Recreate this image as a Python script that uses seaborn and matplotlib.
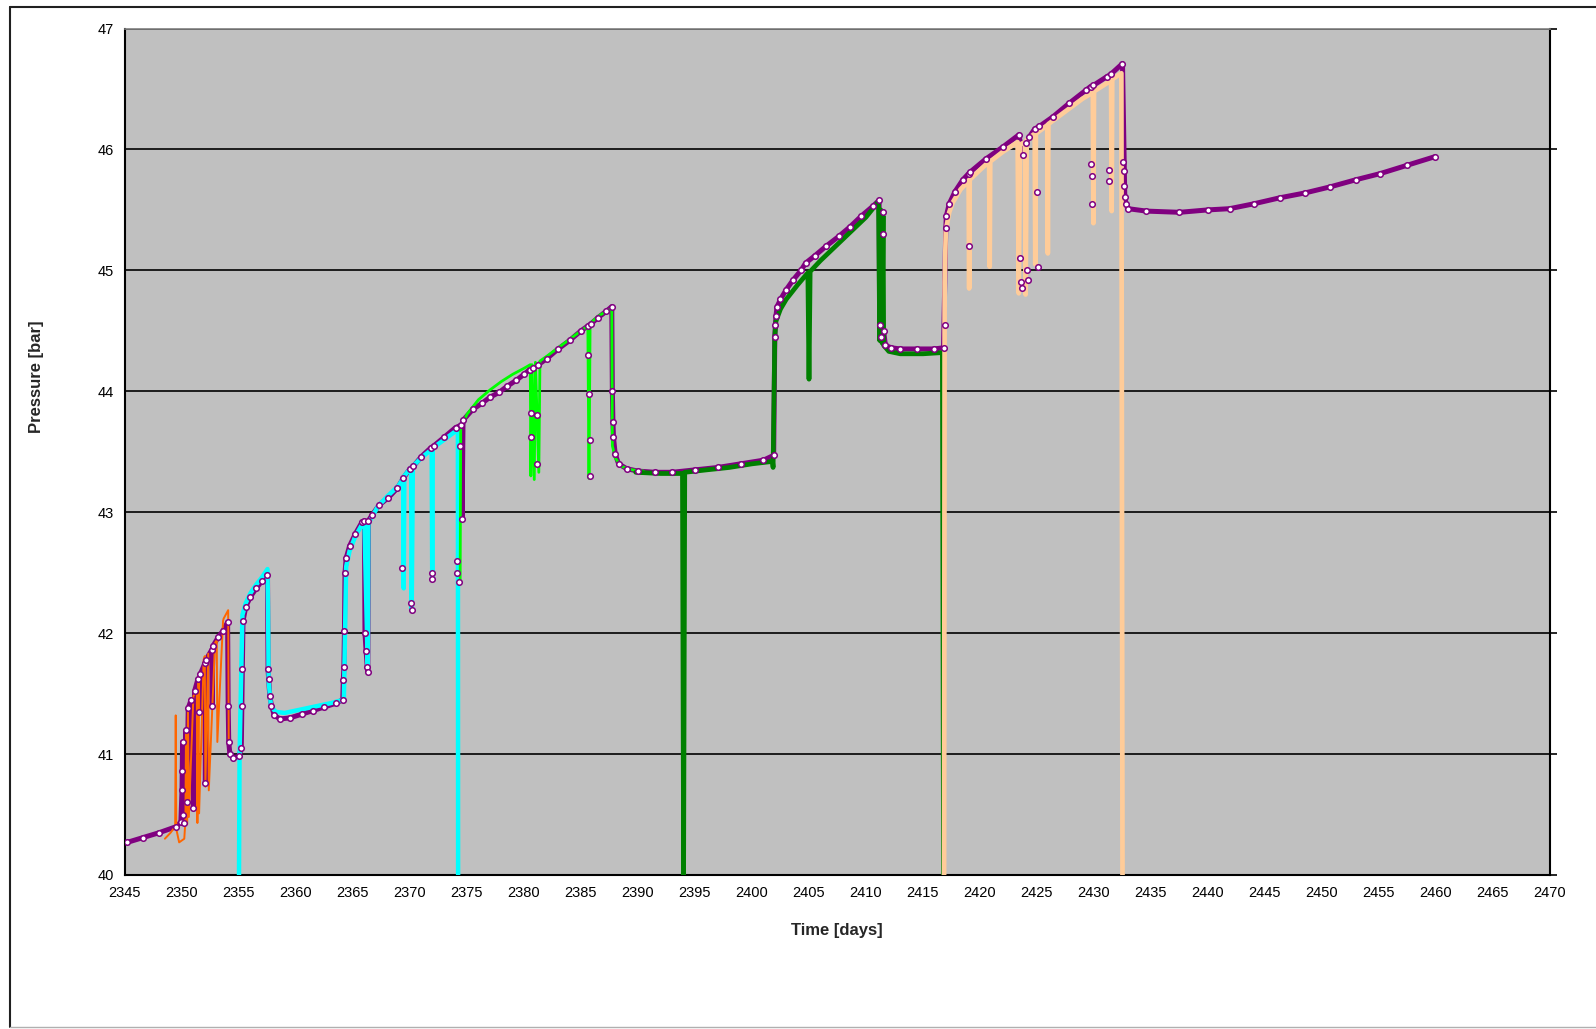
import matplotlib
matplotlib.use("Agg")
import matplotlib.pyplot as plt
from matplotlib.lines import Line2D
import seaborn as sns

# ---- measured bottom-hole pressure (time [days], pressure [bar]) ----
measured = [
    (2345.2, 40.27), (2346.6, 40.31), (2348.0, 40.35), (2349.5, 40.40),
    (2349.9, 40.44), (2350.0, 40.70), (2350.02, 40.86), (2350.05, 41.10), (2350.1, 40.50),
    (2350.15, 40.43), (2350.35, 41.20), (2350.4, 40.60), (2350.55, 41.38), (2350.8, 41.45),
    (2351.0, 40.55), (2351.1, 41.52), (2351.4, 41.62), (2351.5, 41.35), (2351.6, 41.66),
    (2352.0, 41.75), (2352.05, 40.76), (2352.1, 41.78), (2352.6, 41.86), (2352.65, 41.40),
    (2352.7, 41.89), (2353.2, 41.97), (2353.6, 42.02), (2354.0, 42.09), (2354.05, 41.40),
    (2354.1, 41.10), (2354.2, 41.00), (2354.5, 40.97), (2355.0, 40.98), (2355.2, 41.05),
    (2355.25, 41.40), (2355.3, 41.70), (2355.35, 42.10), (2355.6, 42.22), (2356.0, 42.30),
    (2356.5, 42.37), (2357.0, 42.43), (2357.5, 42.48), (2357.55, 41.70), (2357.6, 41.62),
    (2357.7, 41.48), (2357.85, 41.40), (2358.1, 41.32), (2358.6, 41.29), (2359.5, 41.30),
    (2360.5, 41.33), (2361.5, 41.36), (2362.5, 41.39), (2363.5, 41.42), (2364.1, 41.45),
    (2364.15, 41.61), (2364.2, 41.72), (2364.25, 42.02), (2364.3, 42.50), (2364.4, 42.62),
    (2364.7, 42.72), (2365.2, 42.82), (2365.8, 42.92), (2366.0, 42.93), (2366.05, 42.00),
    (2366.15, 41.85), (2366.25, 41.72), (2366.3, 41.68), (2366.35, 42.93), (2366.7, 42.98),
    (2367.3, 43.06), (2368.1, 43.12), (2368.9, 43.20), (2369.4, 43.28), (2370.0, 43.36),
    (2370.3, 43.38), (2371.0, 43.46), (2371.8, 43.53), (2372.1, 43.55), (2373.0, 43.62),
    (2374.0, 43.70), (2374.5, 43.72), (2374.57, 42.94), (2374.65, 43.76), (2375.5, 43.85),
    (2376.3, 43.90), (2377.0, 43.95), (2377.8, 43.99), (2378.5, 44.04), (2379.3, 44.09),
    (2380.0, 44.14), (2380.5, 44.18), (2380.75, 44.19), (2381.25, 44.22), (2382.0, 44.27),
    (2383.0, 44.35), (2384.0, 44.42), (2385.0, 44.50), (2385.6, 44.54), (2385.9, 44.56),
    (2386.5, 44.61), (2387.2, 44.66), (2387.7, 44.70), (2387.75, 44.00), (2387.8, 43.75),
    (2387.85, 43.62), (2388.0, 43.48), (2388.3, 43.40), (2389.0, 43.36), (2390.0, 43.34),
    (2391.5, 43.33), (2393.0, 43.33), (2395.0, 43.35), (2397.0, 43.37), (2399.0, 43.40),
    (2401.0, 43.43), (2401.9, 43.47), (2402.0, 44.45), (2402.05, 44.55), (2402.1, 44.62),
    (2402.2, 44.70), (2402.5, 44.76), (2403.0, 44.84), (2403.6, 44.92), (2404.3, 45.00),
    (2404.7, 45.06), (2405.5, 45.12), (2406.5, 45.20), (2407.6, 45.28), (2408.6, 45.36),
    (2409.6, 45.45), (2410.6, 45.53), (2411.15, 45.58), (2411.2, 44.55), (2411.3, 44.45),
    (2411.55, 44.50), (2411.7, 44.38), (2412.2, 44.36), (2413.0, 44.35), (2414.5, 44.35),
    (2416.0, 44.35), (2416.8, 44.36), (2417.0, 45.35), (2417.05, 45.45), (2417.3, 45.55),
    (2417.8, 45.65), (2418.5, 45.75), (2419.0, 45.80), (2419.1, 45.81), (2420.5, 45.92),
    (2422.0, 46.02), (2423.4, 46.12), (2423.8, 45.95), (2424.0, 46.05), (2424.3, 46.10),
    (2424.8, 46.17), (2425.2, 46.19), (2426.4, 46.27), (2427.8, 46.38), (2429.3, 46.49),
    (2429.7, 46.52), (2429.95, 46.53), (2431.1, 46.60), (2431.45, 46.62), (2432.5, 46.71),
    (2432.7, 45.61), (2432.8, 45.55), (2433.0, 45.51), (2434.6, 45.49), (2437.5, 45.48),
    (2440.0, 45.50), (2441.9, 45.51), (2444.0, 45.55), (2446.3, 45.60), (2448.5, 45.64),
    (2450.7, 45.69), (2453.0, 45.75), (2455.1, 45.80), (2457.5, 45.87), (2459.9, 45.94),
]

# isolated readings taken during short drawdowns
measured_spikes = [
    (2369.3, 42.54), (2370.1, 42.25), (2370.15, 42.19), (2371.9, 42.50), (2371.95, 42.45),
    (2374.1, 42.60), (2374.15, 42.50), (2374.3, 42.42), (2374.4, 43.55),
    (2380.6, 43.82), (2380.65, 43.62), (2381.1, 43.80), (2381.15, 43.40),
    (2385.65, 44.30), (2385.7, 43.98), (2385.75, 43.60), (2385.8, 43.30),
    (2411.45, 45.48), (2411.5, 45.30), (2416.9, 44.55), (2419.05, 45.20),
    (2423.5, 45.10), (2423.6, 44.90), (2423.7, 44.85), (2424.1, 45.00), (2424.2, 44.92),
    (2425.0, 45.65), (2425.05, 45.03), (2429.75, 45.88), (2429.8, 45.78), (2429.85, 45.55),
    (2431.3, 45.83), (2431.35, 45.74), (2432.55, 45.90), (2432.6, 45.82), (2432.65, 45.70),
]

# ---- simulated pressure, one run per history period ----
sim_orange = [
    (2348.5, 40.30), (2349.0, 40.35), (2349.4, 40.40), (2349.45, 41.32), (2349.5, 40.38),
    (2349.75, 40.27), (2350.2, 40.30), (2350.3, 40.45), (2350.35, 41.20), (2350.45, 40.42),
    (2350.52, 41.39), (2350.6, 40.48), (2351.0, 41.48), (2351.3, 41.52), (2351.35, 40.43),
    (2351.45, 41.59), (2351.5, 40.51), (2351.9, 41.78), (2352.0, 41.81), (2352.05, 40.73),
    (2352.3, 41.83), (2352.35, 40.70), (2352.9, 41.92), (2353.05, 41.94), (2353.1, 41.10),
    (2353.6, 42.10), (2353.65, 42.12), (2354.05, 42.19), (2354.1, 41.09),
]

sim_cyan = [
    (2355.0, 40.0), (2355.05, 41.0), (2355.3, 42.15), (2355.6, 42.25), (2356.0, 42.33),
    (2356.5, 42.40), (2357.0, 42.46), (2357.5, 42.53), (2357.55, 42.2), (2357.6, 41.6),
    (2357.8, 41.40), (2358.2, 41.35), (2359.0, 41.34), (2360.0, 41.36), (2361.0, 41.38),
    (2362.0, 41.40), (2363.0, 41.42), (2364.2, 41.45), (2364.4, 42.55), (2364.7, 42.68),
    (2365.2, 42.80), (2365.8, 42.90), (2366.0, 42.92), (2366.3, 41.70), (2366.35, 42.90),
    (2366.6, 42.95), (2367.2, 43.05), (2368.0, 43.13), (2369.0, 43.22), (2369.4, 43.28),
    (2369.45, 42.37), (2369.5, 43.30), (2370.1, 43.37), (2370.15, 42.19), (2370.25, 43.38),
    (2371.0, 43.45), (2371.9, 43.52), (2371.95, 42.45), (2372.0, 43.53), (2373.0, 43.60),
    (2374.0, 43.67), (2374.2, 43.68), (2374.22, 40.0),
]

sim_lime = [
    (2374.4, 42.44), (2374.45, 43.70), (2375.0, 43.81), (2376.0, 43.93), (2377.0, 44.01),
    (2378.0, 44.08), (2379.0, 44.14), (2380.0, 44.19), (2380.55, 44.22), (2380.6, 43.30),
    (2380.7, 44.22), (2380.9, 43.27), (2381.0, 44.24), (2381.3, 43.33), (2381.4, 44.25),
    (2382.0, 44.29), (2383.0, 44.36), (2384.0, 44.43), (2385.0, 44.50), (2385.6, 44.54),
    (2385.7, 43.28), (2385.8, 44.56), (2386.5, 44.62), (2387.7, 44.69), (2387.75, 43.55),
    (2388.0, 43.45), (2388.5, 43.38), (2389.5, 43.35), (2390.5, 43.34),
]

sim_green = [
    (2389.8, 43.33), (2392.0, 43.32), (2393.9, 43.32), (2394.0, 40.0), (2394.1, 43.33),
    (2396.0, 43.35), (2398.0, 43.37), (2400.0, 43.40), (2401.8, 43.42), (2401.85, 43.37),
    (2402.0, 44.45), (2402.1, 44.58), (2402.5, 44.68), (2403.0, 44.76), (2404.0, 44.88),
    (2404.9, 44.98), (2405.0, 44.10), (2405.1, 44.99), (2406.0, 45.08), (2407.0, 45.17),
    (2408.0, 45.26), (2409.0, 45.35), (2410.0, 45.44), (2411.1, 45.57), (2411.2, 44.42),
    (2411.3, 45.50), (2411.4, 44.40), (2411.5, 45.45), (2411.55, 44.38), (2412.0, 44.33),
    (2413.0, 44.31), (2415.0, 44.31), (2416.7, 44.32), (2416.8, 40.0),
]

sim_peach = [
    (2416.85, 40.0), (2416.9, 44.90), (2417.0, 45.33), (2417.3, 45.48), (2417.6, 45.56),
    (2418.3, 45.67), (2419.0, 45.74), (2419.05, 44.85), (2419.1, 45.75), (2420.0, 45.83),
    (2420.8, 45.90), (2420.85, 45.03), (2420.9, 45.90), (2422.0, 45.98), (2423.3, 46.06),
    (2423.4, 44.81), (2423.5, 46.04), (2423.95, 46.06), (2424.0, 44.80), (2424.1, 46.08),
    (2424.8, 46.13), (2424.85, 45.05), (2424.9, 46.13), (2425.9, 46.20), (2425.95, 45.14),
    (2426.0, 46.21), (2427.0, 46.28), (2428.0, 46.35), (2429.0, 46.42), (2429.9, 46.47),
    (2429.95, 45.39), (2430.0, 46.48), (2431.0, 46.54), (2431.5, 46.57), (2431.55, 45.49),
    (2431.6, 46.58), (2432.4, 46.63), (2432.5, 40.0),
]

x_ticks = list(range(2345, 2471, 5))
y_ticks = list(range(40, 48))

sns.set_style("white")
plt.rcParams["font.family"] = ["Liberation Sans", "DejaVu Sans"]

W, H = 1596, 1029
fig = plt.figure(figsize=(W / 100, H / 100), dpi=100)
fig.patch.set_facecolor("white")
left, right, top, bottom = 125, 1550, 28.5, 875
ax = fig.add_axes([left / W, 1 - bottom / H, (right - left) / W, (bottom - top) / H])
ax.set_facecolor("#C0C0C0")

PURPLE = "#800080"


def unzip(pairs):
    return [a for a, _ in pairs], [b for _, b in pairs]


mt, mp = unzip(measured)
sns.lineplot(x=mt, y=mp, ax=ax, sort=False, estimator=None, color=PURPLE,
             linewidth=3.6, zorder=3)

for series, colour, lw in [
    (sim_orange, "#FF6600", 1.4),
    (sim_cyan, "#00FFFF", 3.2),
    (sim_lime, "#00FF00", 2.0),
    (sim_green, "#008000", 3.4),
    (sim_peach, "#FFCC99", 3.4),
]:
    st, sp = unzip(series)
    sns.lineplot(x=st, y=sp, ax=ax, sort=False, estimator=None, color=colour,
                 linewidth=lw, zorder=4)

st, sp = unzip(measured + measured_spikes)
sns.scatterplot(x=st, y=sp, ax=ax, marker="o", s=16, facecolor="white",
                edgecolor=PURPLE, linewidth=1.1, zorder=5)

ax.set_xlim(2345, 2470)
ax.set_ylim(40, 47)
ax.set_xticks(x_ticks)
ax.set_yticks(y_ticks)
ax.set_xticklabels([str(v) for v in x_ticks], fontsize=10.5)
ax.set_yticklabels([str(v) for v in y_ticks], fontsize=10.5)
ax.yaxis.grid(True, color="black", linewidth=1.2)
ax.xaxis.grid(False)
ax.set_axisbelow(True)
ax.set_xlabel("")
ax.set_ylabel("")

for side in ["left", "bottom", "right"]:
    ax.spines[side].set_color("black")
    ax.spines[side].set_linewidth(1.5)
ax.spines["top"].set_color("#808080")
ax.spines["top"].set_linewidth(1.2)

ax.tick_params(axis="both", direction="out", length=5, width=1.2, color="black",
               labelcolor="black", pad=3)
ax.tick_params(axis="y", right=True, labelright=False)

fig.text(837 / W, 1 - 931 / H, "Time [days]", ha="center", va="center",
         fontsize=12, fontweight="bold")
fig.text(36 / W, 1 - 377 / H, "Pressure [bar]", ha="center", va="center",
         rotation=90, fontsize=12, fontweight="bold")

# outer chart frame
fig.add_artist(Line2D([10 / W, 1.0], [1 - 6.5 / H, 1 - 6.5 / H], transform=fig.transFigure,
                      color="#202020", linewidth=1.5))
fig.add_artist(Line2D([10 / W, 10 / W], [1 - 6.5 / H, 1 - 1027 / H], transform=fig.transFigure,
                      color="#202020", linewidth=1.5))
fig.add_artist(Line2D([10 / W, 1.0], [1 - 1027 / H, 1 - 1027 / H], transform=fig.transFigure,
                      color="#B0B0B0", linewidth=1.0))

fig.savefig("out.png", dpi=100, facecolor="white")
